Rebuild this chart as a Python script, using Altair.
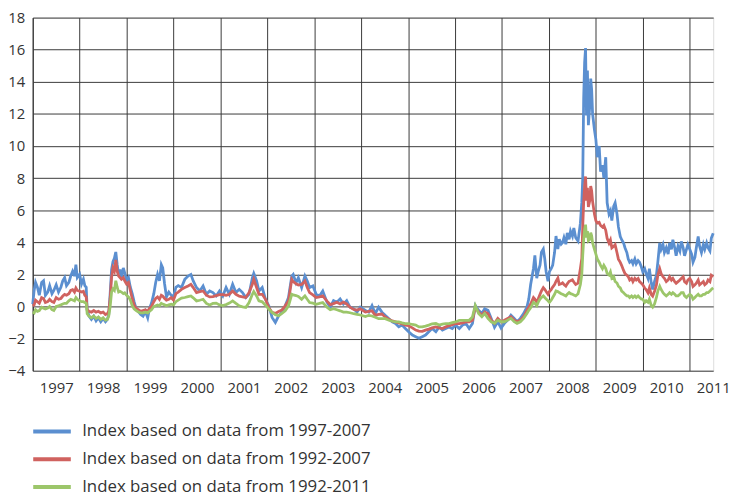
import altair as alt
import pandas as pd

dates = [
    1997.00, 1997.03, 1997.06, 1997.10, 1997.14, 1997.19, 1997.23, 1997.27, 1997.32, 1997.36,
    1997.41, 1997.45, 1997.50, 1997.55, 1997.60, 1997.64, 1997.68, 1997.72, 1997.77, 1997.81,
    1997.85, 1997.89, 1997.92, 1997.95, 1998.00, 1998.04, 1998.08, 1998.11, 1998.14, 1998.16,
    1998.20, 1998.25, 1998.30, 1998.35, 1998.40, 1998.45, 1998.50, 1998.55, 1998.59, 1998.62,
    1998.65, 1998.68, 1998.71, 1998.74, 1998.77, 1998.80, 1998.83, 1998.86, 1998.89, 1998.93,
    1998.96, 1999.00, 1999.04, 1999.08, 1999.12, 1999.16, 1999.20, 1999.25, 1999.30, 1999.35,
    1999.40, 1999.45, 1999.49, 1999.53, 1999.58, 1999.62, 1999.66, 1999.70, 1999.74, 1999.77,
    1999.81, 1999.85, 1999.90, 1999.95, 2000.00, 2000.05, 2000.10,
    2000.17, 2000.24, 2000.31, 2000.37, 2000.42, 2000.49, 2000.56, 2000.63, 2000.70, 2000.77,
    2000.84, 2000.91, 2000.98, 2001.05, 2001.12, 2001.19, 2001.26, 2001.33, 2001.40, 2001.47,
    2001.54, 2001.61, 2001.68, 2001.71, 2001.77, 2001.82, 2001.89, 2001.96, 2002.03, 2002.10,
    2002.17, 2002.24, 2002.31, 2002.38, 2002.45, 2002.52, 2002.55, 2002.61, 2002.66, 2002.73,
    2002.80, 2002.85, 2002.90, 2002.97, 2003.04, 2003.11, 2003.18,
    2003.27, 2003.34, 2003.41, 2003.48, 2003.55, 2003.62, 2003.69, 2003.76, 2003.84, 2003.91,
    2003.98, 2004.09, 2004.16, 2004.23, 2004.30, 2004.37, 2004.44, 2004.51, 2004.59, 2004.66,
    2004.73, 2004.80, 2004.87, 2004.94, 2005.01, 2005.09, 2005.16, 2005.23, 2005.30, 2005.37,
    2005.44, 2005.51, 2005.59, 2005.66, 2005.73, 2005.80, 2005.87, 2005.94, 2006.01, 2006.09,
    2006.16, 2006.23, 2006.30, 2006.37,
    2006.43, 2006.50, 2006.57, 2006.63, 2006.70, 2006.77, 2006.84, 2006.91, 2006.98, 2007.05,
    2007.12, 2007.19, 2007.26, 2007.32, 2007.39, 2007.46, 2007.53, 2007.57, 2007.61, 2007.67,
    2007.70, 2007.74, 2007.77, 2007.81, 2007.84, 2007.88, 2007.91, 2007.94, 2007.98, 2008.01,
    2008.05, 2008.08, 2008.12, 2008.15, 2008.19, 2008.22, 2008.26, 2008.29, 2008.32, 2008.36,
    2008.39, 2008.43, 2008.46, 2008.50, 2008.53, 2008.57, 2008.62, 2008.67,
    2008.70, 2008.72, 2008.74, 2008.76, 2008.78, 2008.80, 2008.82, 2008.84, 2008.87, 2008.89,
    2008.91,
    2008.93, 2008.97, 2009.00, 2009.03, 2009.07, 2009.10, 2009.14, 2009.17, 2009.21, 2009.24,
    2009.28, 2009.31, 2009.34, 2009.38, 2009.41, 2009.45, 2009.48, 2009.52, 2009.55, 2009.59,
    2009.62, 2009.66, 2009.69, 2009.72, 2009.76, 2009.79, 2009.83, 2009.86, 2009.90, 2009.93,
    2009.97, 2010.00, 2010.04, 2010.07, 2010.11, 2010.14, 2010.18, 2010.21, 2010.25, 2010.29,
    2010.32, 2010.36, 2010.39, 2010.43, 2010.46, 2010.50, 2010.54, 2010.57, 2010.61, 2010.64,
    2010.68, 2010.71, 2010.75, 2010.79, 2010.82, 2010.86, 2010.89, 2010.93, 2010.96, 2011.00,
    2011.04, 2011.07, 2011.11, 2011.14, 2011.18, 2011.21, 2011.25, 2011.29, 2011.32, 2011.36,
    2011.39, 2011.43, 2011.46, 2011.50,
]

idx_1997_2007 = [
    0.15, 1.0, 1.5, 1.2, 0.7, 1.5, 1.6, 0.7, 0.9, 1.3,
    0.8, 1.0, 1.35, 0.9, 1.2, 1.6, 1.8, 1.3, 1.5, 1.9,
    2.2, 1.9, 2.6, 1.8, 2.0, 1.4, 1.7, 1.3, 1.2, -0.2,
    -0.6, -0.8, -0.6, -0.9, -0.7, -0.95, -0.75, -0.95, -0.8, -0.5,
    0.8, 2.3, 2.8, 3.0, 3.4, 2.6, 2.0, 2.3, 1.8, 2.4,
    2.1, 1.6, 1.8, 1.2, 0.8, 0.3, -0.1, -0.3, -0.5, -0.6,
    -0.3, -0.7, -0.1, 0.2, 0.8, 1.5, 2.0, 1.6, 2.6, 2.4,
    1.4, 0.6, 0.9, 0.7, 0.6, 1.2, 1.3,
    1.18, 1.69, 1.90, 2.00, 1.59, 1.18, 0.97, 1.28, 0.76, 0.97,
    0.87, 0.66, 0.97, 0.66, 1.18, 0.76, 1.38, 0.87, 1.07, 0.87,
    0.56, 0.76, 1.79, 2.06, 1.59, 0.97, 1.18, 0.45, 0.04, -0.68,
    -0.99, -0.58, -0.37, 0.04, 0.56, 1.90, 2.00, 1.48, 1.79, 1.18,
    1.90, 1.59, 1.18, 1.28, 0.76, 0.66, 0.97,
    0.27, -0.04, 0.37, 0.27, 0.47, 0.16, 0.37, -0.04, -0.14, -0.35,
    -0.04, -0.24, -0.35, 0.06, -0.45, -0.04, -0.35, -0.55, -0.76, -0.96,
    -1.06, -1.27, -1.16, -1.37, -1.57, -1.78, -1.88, -1.98, -1.88, -1.78,
    -1.57, -1.37, -1.57, -1.27, -1.47, -1.37, -1.27, -1.37, -1.16, -1.37,
    -1.16, -1.06, -1.37, -1.06,
    0.06, -0.24, -0.44, -0.14, -0.24, -0.74, -1.30, -0.95, -1.35, -1.05,
    -0.85, -0.54, -0.74, -0.95, -0.74, -0.44, -0.04, 0.46, 1.37, 2.37,
    3.18, 1.77, 2.17, 2.58, 3.38, 3.58, 2.98, 2.17, 1.57, 2.17,
    2.37, 2.58, 3.38, 4.39, 3.58, 4.19, 3.88, 3.98, 4.29, 3.88,
    4.59, 4.19, 4.69, 4.39, 4.89, 4.29, 4.08, 5.19,
    6.5, 8.0, 13.0, 15.2, 16.1, 11.9, 14.7, 11.3, 12.5, 14.2,
    13.5,
    12.0, 11.0, 10.4, 9.3, 10.0, 8.4, 8.8, 8.0, 9.3, 6.46,
    5.76, 5.96, 5.36, 6.26, 6.46, 5.76, 4.96, 4.36, 4.16, 3.96,
    3.66, 3.36, 2.96, 2.76, 2.86, 2.66, 2.96, 2.66, 2.86, 2.76,
    2.46, 2.16, 2.36, 2.06, 1.76, 2.36, 1.46, 1.06, 1.56, 1.96,
    2.76, 3.96, 3.56, 3.86, 3.36, 3.66, 3.26, 3.96, 3.56, 4.16,
    3.66, 3.16, 3.76, 3.46, 4.06, 3.66, 3.16, 3.56, 3.86, 3.56,
    3.26, 2.76, 3.06, 3.66, 4.36, 3.76, 3.36, 3.86, 3.56, 3.96,
    3.66, 3.46, 4.26, 4.56,
]

idx_1992_2007 = [
    0.05, 0.1, 0.4, 0.3, 0.2, 0.55, 0.5, 0.25, 0.3, 0.45,
    0.3, 0.25, 0.55, 0.45, 0.5, 0.65, 0.75, 0.7, 0.8, 1.0,
    1.05, 0.9, 1.15, 1.0, 0.95, 0.9, 0.95, 0.7, 0.6, -0.2,
    -0.3, -0.35, -0.25, -0.35, -0.3, -0.4, -0.35, -0.5, -0.45, -0.3,
    0.5, 1.8, 2.4, 2.2, 2.9, 2.2, 1.9, 1.8, 1.7, 1.8,
    1.6, 1.4, 1.5, 1.0, 0.5, 0.1, -0.1, -0.2, -0.3, -0.25,
    -0.2, -0.3, -0.1, 0.0, 0.3, 0.5, 0.6, 0.45, 0.7, 0.65,
    0.5, 0.4, 0.45, 0.55, 0.4, 0.8, 0.9,
    1.07, 1.18, 1.28, 1.38, 1.18, 0.87, 0.93, 0.97, 0.70, 0.60,
    0.62, 0.68, 0.74, 0.74, 0.70, 0.76, 0.97, 0.76, 0.64, 0.60,
    0.56, 0.87, 1.38, 1.69, 1.18, 0.76, 0.76, 0.45, -0.06, -0.37,
    -0.43, -0.31, -0.21, 0.04, 0.35, 1.69, 1.55, 1.42, 1.34, 1.38,
    1.59, 1.18, 0.87, 0.72, 0.56, 0.60, 0.66,
    0.33, 0.12, 0.18, 0.27, 0.16, 0.27, 0.16, -0.04, -0.18, -0.22,
    -0.14, -0.35, -0.31, -0.27, -0.55, -0.49, -0.47, -0.65, -0.80, -0.90,
    -0.96, -1.02, -1.08, -1.16, -1.20, -1.33, -1.47, -1.53, -1.55, -1.47,
    -1.41, -1.33, -1.27, -1.33, -1.37, -1.27, -1.20, -1.14, -1.06, -1.06,
    -1.02, -0.96, -0.96, -0.86,
    -0.04, -0.34, -0.54, -0.34, -0.44, -0.85, -1.05, -0.74, -0.95, -0.85,
    -0.74, -0.64, -0.85, -0.95, -0.85, -0.64, -0.24, -0.04, 0.16, 0.56,
    0.46, 0.26, 0.46, 0.76, 0.97, 1.17, 1.07, 0.93, 0.76, 0.93,
    1.07, 1.21, 1.37, 1.57, 1.77, 1.37, 1.41, 1.47, 1.37, 1.27,
    1.41, 1.57, 1.61, 1.67, 1.53, 1.37, 1.45, 2.37,
    3.0, 5.0, 6.5, 7.5, 8.1, 6.6, 7.4, 6.2, 6.6, 7.5,
    7.2,
    6.55, 5.75, 5.35, 5.2, 5.25, 5.05, 4.95, 5.05, 4.75, 4.25,
    3.95, 4.15, 3.65, 3.75, 3.85, 3.35, 2.95, 2.75, 2.55, 2.25,
    2.05, 1.95, 1.85, 1.65, 1.75, 1.55, 1.75, 1.65, 1.75, 1.55,
    1.45, 1.35, 1.15, 1.05, 0.85, 1.15, 0.75, 0.65, 0.95, 1.35,
    1.95, 2.35, 2.05, 1.85, 1.75, 1.55, 1.65, 1.85, 1.65, 1.75,
    1.55, 1.45, 1.55, 1.65, 1.75, 1.85, 1.55, 1.45, 1.65, 1.75,
    1.55, 1.25, 1.35, 1.45, 1.65, 1.35, 1.45, 1.55, 1.35, 1.45,
    1.65, 1.55, 1.95, 1.85,
]

idx_1992_2011 = [
    -0.35, -0.4, -0.2, -0.3, -0.25, -0.05, -0.1, -0.15, -0.1, 0.0,
    -0.2, -0.25, 0.0, 0.05, 0.1, 0.15, 0.2, 0.2, 0.35, 0.45,
    0.4, 0.35, 0.55, 0.45, 0.35, 0.3, 0.3, 0.25, 0.2, -0.45,
    -0.6, -0.7, -0.6, -0.75, -0.65, -0.8, -0.7, -0.85, -0.8, -0.6,
    0.0, 0.9, 1.1, 1.0, 1.6, 1.2, 0.9, 0.95, 0.9, 0.8,
    0.85, 0.7, 0.6, 0.4, 0.05, -0.15, -0.25, -0.35, -0.4, -0.4,
    -0.35, -0.4, -0.3, -0.2, 0.0, 0.05, 0.1, 0.05, 0.2, 0.15,
    0.1, 0.05, 0.1, 0.15, 0.1, 0.3, 0.4,
    0.52, 0.56, 0.62, 0.66, 0.54, 0.35, 0.39, 0.45, 0.19, 0.10,
    0.19, 0.21, 0.10, 0.06, 0.12, 0.21, 0.35, 0.19, 0.04, -0.02,
    -0.06, 0.25, 0.76, 0.93, 0.66, 0.35, 0.29, 0.08, -0.16, -0.37,
    -0.52, -0.58, -0.43, -0.27, 0.04, 0.76, 0.72, 0.68, 0.62, 0.45,
    0.66, 0.45, 0.25, 0.21, 0.14, 0.19, 0.25,
    -0.04, -0.20, -0.14, -0.20, -0.27, -0.35, -0.35, -0.39, -0.45, -0.49,
    -0.53, -0.63, -0.55, -0.59, -0.67, -0.76, -0.76, -0.76, -0.86, -0.92,
    -0.96, -0.96, -1.02, -1.06, -1.06, -1.12, -1.16, -1.27, -1.27, -1.22,
    -1.16, -1.08, -1.06, -1.16, -1.10, -1.06, -1.06, -1.00, -0.96, -0.86,
    -0.86, -0.86, -0.86, -0.65,
    0.06, -0.44, -0.64, -0.44, -0.74, -0.95, -1.05, -0.85, -0.95, -0.95,
    -0.85, -0.74, -0.95, -1.05, -0.95, -0.74, -0.44, -0.24, -0.08, 0.26,
    0.20, 0.06, 0.26, 0.46, 0.56, 0.66, 0.56, 0.46, 0.36, 0.26,
    0.40, 0.56, 0.76, 0.97, 0.93, 0.87, 0.80, 0.76, 0.72, 0.66,
    0.76, 0.87, 0.80, 0.76, 0.72, 0.66, 0.80, 1.37,
    2.0, 3.2, 4.2, 4.8, 5.1, 4.3, 4.7, 4.1, 4.2, 4.6,
    4.4,
    3.96, 3.56, 3.26, 2.96, 2.76, 2.56, 2.36, 2.56, 2.36, 2.06,
    1.96, 2.16, 1.76, 1.86, 1.56, 1.46, 1.26, 1.16, 0.96, 0.86,
    0.76, 0.66, 0.66, 0.56, 0.66, 0.56, 0.66, 0.56, 0.66, 0.56,
    0.46, 0.46, 0.26, 0.36, 0.26, 0.46, 0.06, -0.04, 0.16, 0.56,
    0.96, 1.26, 1.06, 0.86, 0.76, 0.66, 0.76, 0.86, 0.76, 0.86,
    0.76, 0.66, 0.66, 0.76, 0.86, 0.86, 0.66, 0.56, 0.66, 0.76,
    0.66, 0.46, 0.56, 0.66, 0.76, 0.66, 0.66, 0.76, 0.76, 0.86,
    0.86, 0.96, 1.06, 1.16,
]

series_names = [
    "Index based on data from 1997-2007",
    "Index based on data from 1992-2007",
    "Index based on data from 1992-2011",
]
series_colors = ["#5b8fd0", "#d0625f", "#9cc66a"]
year_ticks = list(range(1997, 2012))
y_ticks = list(range(-4, 19, 2))

frames = []
for name, vals in zip(series_names, [idx_1997_2007, idx_1992_2007, idx_1992_2011]):
    frames.append(pd.DataFrame({"t": dates, "v": vals, "series": name}))
df = pd.concat(frames, ignore_index=True)

FONT = "Open Sans"
TXT = "#333333"
GRID = "#3a3a3a"

color = alt.Color(
    "series:N",
    scale=alt.Scale(domain=series_names, range=series_colors),
    legend=alt.Legend(
        title=None,
        orient="none",
        legendX=8,
        legendY=407,
        direction="vertical",
        symbolType="M-2,0H2",
        symbolSize=361,
        symbolStrokeWidth=4,
        labelFont=FONT,
        labelFontSize=17,
        labelColor=TXT,
        labelLimit=500,
        labelOffset=19,
        rowPadding=8,
    ),
)

x = alt.X(
    "t:Q",
    scale=alt.Scale(domain=[1997, 2011.5], nice=False, zero=False),
    axis=alt.Axis(
        values=year_ticks,
        format="d",
        title=None,
        grid=True,
        gridColor=GRID,
        gridWidth=1,
        ticks=False,
        domain=False,
        labelOffset=23.7,
        labelFlush=False,
        labelOverlap=False,
        labelBound=False,
        labelPadding=10,
        labelFont=FONT,
        labelFontSize=15,
        labelColor=TXT,
    ),
)
y = alt.Y(
    "v:Q",
    scale=alt.Scale(domain=[-4, 18], nice=False, zero=False),
    axis=alt.Axis(
        values=y_ticks,
        title=None,
        grid=True,
        gridColor=GRID,
        gridWidth=1,
        ticks=False,
        domain=True,
        domainColor=GRID,
        labelPadding=8,
        labelFont=FONT,
        labelFontSize=15,
        labelColor=TXT,
    ),
)

layers = []
for name in series_names:
    layers.append(
        alt.Chart(df)
        .transform_filter(alt.datum.series == name)
        .mark_line(strokeWidth=2.8, interpolate="linear")
        .encode(x=x, y=y, color=color, order="t:Q")
    )

chart = (
    alt.layer(*layers)
    .properties(
        width=688,
        height=357,
        autosize=alt.AutoSizeParams(type="none"),
        padding={"left": 25, "top": 7, "right": 19, "bottom": 126},
    )
    .configure_view(stroke="#777777", strokeWidth=1)
    .configure(background="white")
)

chart.save("out.html", embed_options={"renderer": "svg", "actions": False})
